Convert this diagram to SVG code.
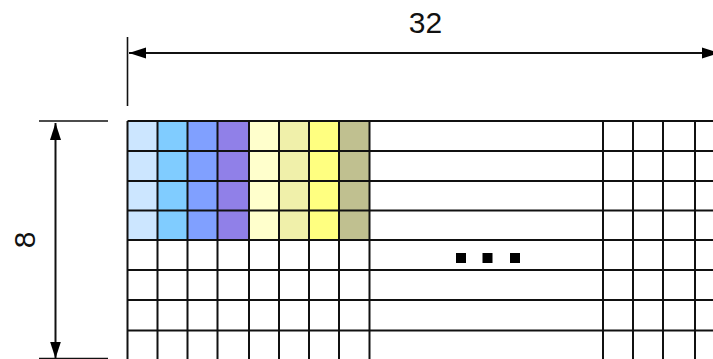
<svg xmlns="http://www.w3.org/2000/svg" width="713" height="359" viewBox="0 0 713 359">
  <style>
    .grid line { stroke: #111; stroke-width: 2; }
    .dim { stroke: #111; stroke-width: 2; fill: none; }
    .ext { stroke: #111; stroke-width: 1.6; }
    .lbl { font-family: "Liberation Sans", Arial, sans-serif; font-size: 30px; fill: #111; text-anchor: middle; }
    .dot { fill: #000; }
  </style>
  <defs>
    <marker id="arr" viewBox="0 0 18 12" refX="17" refY="6" markerWidth="18" markerHeight="12" markerUnits="userSpaceOnUse" orient="auto-start-reverse">
      <path d="M17,6 L0,0.5 L0,11.5 Z" fill="#000"/>
    </marker>
  </defs>
  <rect width="713" height="359" fill="#fff"/>

  <g id="cells">
    <rect x="127.5" y="121" width="30" height="119" fill="#cce6ff"/>
    <rect x="157.5" y="121" width="30" height="119" fill="#80ccff"/>
    <rect x="187.5" y="121" width="30" height="119" fill="#80a0ff"/>
    <rect x="217.5" y="121" width="31.5" height="119" fill="#9080e8"/>
    <rect x="249" y="121" width="30" height="119" fill="#ffffcc"/>
    <rect x="279" y="121" width="30" height="119" fill="#f0f0aa"/>
    <rect x="309" y="121" width="30" height="119" fill="#ffff80"/>
    <rect x="339" y="121" width="30.5" height="119" fill="#c0c090"/>
  </g>

  <g id="grid" class="grid">
    <line x1="127.5" y1="121" x2="713" y2="121"/>
    <line x1="127.5" y1="151" x2="713" y2="151"/>
    <line x1="127.5" y1="181" x2="713" y2="181"/>
    <line x1="127.5" y1="210.5" x2="713" y2="210.5"/>
    <line x1="127.5" y1="240" x2="713" y2="240"/>
    <line x1="127.5" y1="270" x2="713" y2="270"/>
    <line x1="127.5" y1="300" x2="713" y2="300"/>
    <line x1="127.5" y1="330.5" x2="713" y2="330.5"/>
    <line x1="127.5" y1="121" x2="127.5" y2="359"/>
    <line x1="157.5" y1="121" x2="157.5" y2="359"/>
    <line x1="187.5" y1="121" x2="187.5" y2="359"/>
    <line x1="217.5" y1="121" x2="217.5" y2="359"/>
    <line x1="249" y1="121" x2="249" y2="359"/>
    <line x1="279" y1="121" x2="279" y2="359"/>
    <line x1="309" y1="121" x2="309" y2="359"/>
    <line x1="339" y1="121" x2="339" y2="359"/>
    <line x1="369.5" y1="121" x2="369.5" y2="359"/>
    <line x1="603" y1="121" x2="603" y2="359"/>
    <line x1="633" y1="121" x2="633" y2="359"/>
    <line x1="663" y1="121" x2="663" y2="359"/>
    <line x1="695" y1="121" x2="695" y2="359"/>
  </g>

  <g id="ellipsis">
    <rect class="dot" x="456" y="253" width="10" height="10"/>
    <rect class="dot" x="482.5" y="253" width="10" height="10"/>
    <rect class="dot" x="510" y="253" width="10" height="10"/>
  </g>

  <g id="connectors">
    <line class="ext" x1="127.5" y1="37" x2="127.5" y2="106"/>
    <line class="ext" x1="39" y1="121" x2="108" y2="121"/>
    <line class="ext" x1="39" y1="358.5" x2="108" y2="358.5" stroke="#999"/>
    <line class="dim" x1="129" y1="53" x2="719" y2="53" marker-start="url(#arr)" marker-end="url(#arr)"/>
    <line class="dim" x1="55.5" y1="123" x2="55.5" y2="358.5" marker-start="url(#arr)" marker-end="url(#arr)"/>
  </g>

  <g id="labels">
    <text class="lbl" x="425.5" y="33">32</text>
    <text class="lbl" transform="translate(35,240) rotate(-90)">8</text>
  </g>
</svg>
